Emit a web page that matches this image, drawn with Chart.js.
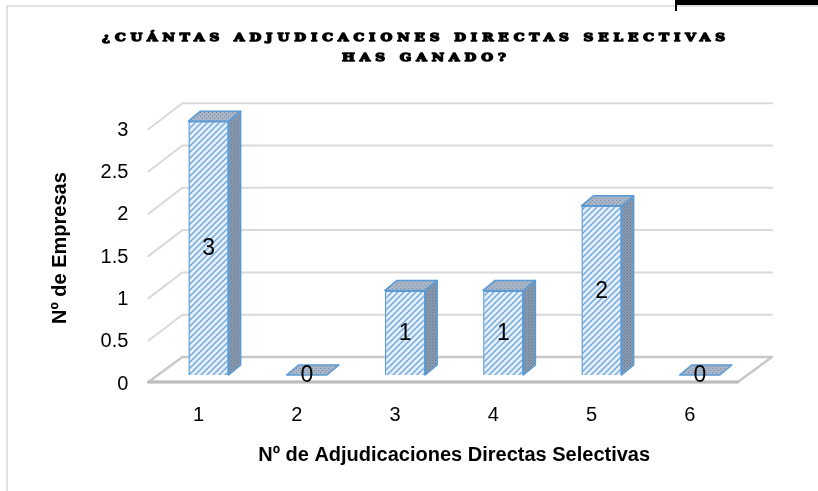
<!DOCTYPE html>
<html><head><meta charset="utf-8">
<script src="https://cdn.jsdelivr.net/npm/chart.js@4.4.1/dist/chart.umd.min.js"></script>
<style>html,body{margin:0;padding:0;background:#fff}#wrap{position:relative;width:818px;height:491px}</style>
</head><body><div id="wrap"><canvas id="c"></canvas></div>
<script>
const categories = ['1','2','3','4','5','6'];
const companies = [3, 0, 1, 1, 2, 0];
const yTicks = [0, 0.5, 1, 1.5, 2, 2.5, 3];
const titleLines = ['¿CUÁNTAS ADJUDICACIONES DIRECTAS SELECTIVAS', 'HAS GANADO?'];
const yTitle = 'Nº de Empresas';
const xTitle = 'Nº de Adjudicaciones Directas Selectivas';

const NARROW = "'Liberation Sans Narrow','Arial Narrow','Liberation Sans',Arial,sans-serif";

function makePattern(w, bg, fg, draw){
  const c = document.createElement('canvas'); c.width = w; c.height = w;
  const g = c.getContext('2d');
  g.fillStyle = bg; g.fillRect(0,0,w,w);
  g.strokeStyle = fg; g.fillStyle = fg;
  draw(g, w);
  return g.createPattern(c, 'repeat');
}
const frontPat = makePattern(6, '#e6f0fa', '#76a9dc', (g,w)=>{
  g.lineWidth = 1.5; g.beginPath();
  g.moveTo(-1, w+1); g.lineTo(w+1, -1);
  g.moveTo(-1, 1); g.lineTo(1, -1);
  g.moveTo(w-1, w+1); g.lineTo(w+1, w-1);
  g.stroke();
});
const sidePat = makePattern(3, '#8a9bb1', '#66788e', (g,w)=>{ g.fillRect(0,0,1,1); g.fillRect(1.5,1.5,1,1); });
const topPat = makePattern(4, '#a7b5c6', '#7d8fa6', (g,w)=>{ g.fillRect(0,0,1,1); g.fillRect(2,2,1,1); });

const FRONT_OFF = {dx:-11, dy:7};
const BACK_OFF = {dx:23, dy:-18};
const DEPTH = {dx:12, dy:-10};

const framePlugin = {
  id:'frame',
  beforeDraw(chart){
    const ctx = chart.ctx;
    ctx.save();
    ctx.fillStyle = '#fff'; ctx.fillRect(0,0,chart.width,chart.height);
    ctx.strokeStyle = '#d9d9d9'; ctx.lineWidth = 1.5;
    ctx.beginPath(); ctx.moveTo(7, chart.height+2); ctx.lineTo(7, 6); ctx.lineTo(chart.width+2, 6); ctx.stroke();
    ctx.fillStyle = '#000';
    ctx.fillRect(675, 0, 143, 5);
    ctx.fillRect(675, 0, 2, 11);
    // title (wide, heavy, letter-spaced)
    const SX = 1.18;
    ctx.font = 'bold 11.5px "DejaVu Serif"';
    ctx.textBaseline = 'alphabetic'; ctx.textAlign = 'left';
    ctx.letterSpacing = '0px';
    const w0 = ctx.measureText(titleLines[0]).width;
    const n0 = [...titleLines[0]].length;
    const sp = (623 / SX - w0) / (n0 - 1);
    const centers = [413.5, 424];
    const bases = [40.5, 60.5];
    ctx.lineWidth = 1.4; ctx.strokeStyle = '#000'; ctx.lineJoin = 'round';
    titleLines.forEach((t,i)=>{
      const n = [...t].length;
      ctx.letterSpacing = '0px';
      const w = (ctx.measureText(t).width + (n-1)*sp) * SX;
      ctx.save();
      ctx.translate(centers[i] - w/2, bases[i]);
      ctx.scale(SX, 1);
      ctx.letterSpacing = sp + 'px';
      ctx.fillText(t, 0, 0);
      ctx.strokeText(t, 0, 0);
      ctx.restore();
    });
    ctx.restore();
  }
};

const wallPlugin = {
  id:'wall',
  beforeDatasetsDraw(chart){
    const ctx = chart.ctx, ys = chart.scales.y, a = chart.chartArea;
    ctx.save();
    ctx.lineCap = 'round';
    yTicks.forEach(v=>{
      if (v === 0) return;
      const p = ys.getPixelForValue(v);
      ctx.strokeStyle = '#d9d9d9'; ctx.lineWidth = 2;
      ctx.beginPath();
      ctx.moveTo(a.left + FRONT_OFF.dx, p + FRONT_OFF.dy + 1);
      ctx.lineTo(a.left + BACK_OFF.dx, p + BACK_OFF.dy);
      ctx.lineTo(a.right + BACK_OFF.dx, p + BACK_OFF.dy);
      ctx.stroke();
    });
    const p0 = ys.getPixelForValue(0);
    ctx.strokeStyle = '#c8c8c8'; ctx.lineWidth = 2.5; ctx.lineJoin = 'round';
    ctx.beginPath();
    ctx.moveTo(a.left + BACK_OFF.dx, p0 + BACK_OFF.dy);
    ctx.lineTo(a.right + BACK_OFF.dx, p0 + BACK_OFF.dy);
    ctx.lineTo(a.right + FRONT_OFF.dx, p0 + FRONT_OFF.dy);
    ctx.lineTo(a.left + FRONT_OFF.dx, p0 + FRONT_OFF.dy);
    ctx.closePath();
    ctx.stroke();
    ctx.strokeStyle = '#bdbdbd'; ctx.lineWidth = 3;
    ctx.beginPath();
    ctx.moveTo(a.left + FRONT_OFF.dx, p0 + FRONT_OFF.dy);
    ctx.lineTo(a.right + FRONT_OFF.dx, p0 + FRONT_OFF.dy);
    ctx.stroke();
    ctx.restore();
  }
};

const barsPlugin = {
  id:'bars3d',
  afterDatasetsDraw(chart){
    const ctx = chart.ctx;
    const meta = chart.getDatasetMeta(0);
    ctx.save();
    ctx.strokeStyle = '#5b9bd5'; ctx.lineWidth = 1.5; ctx.lineJoin = 'round';
    meta.data.forEach((bar, i)=>{
      const {x, y, base, width} = bar.getProps(['x','y','base','width'], true);
      const l = x - width/2, r = x + width/2;
      if (base - y > 1) {
        ctx.fillStyle = sidePat;
        ctx.beginPath();
        ctx.moveTo(r, y); ctx.lineTo(r + DEPTH.dx, y + DEPTH.dy);
        ctx.lineTo(r + DEPTH.dx, base + DEPTH.dy); ctx.lineTo(r, base);
        ctx.closePath(); ctx.fill(); ctx.stroke();
      }
      ctx.fillStyle = topPat;
      ctx.beginPath();
      ctx.moveTo(l, y); ctx.lineTo(l + DEPTH.dx, y + DEPTH.dy);
      ctx.lineTo(r + DEPTH.dx, y + DEPTH.dy); ctx.lineTo(r, y);
      ctx.closePath(); ctx.fill(); ctx.stroke();
    });
    ctx.fillStyle = '#000';
    ctx.font = '23px ' + NARROW;
    ctx.textAlign = 'center'; ctx.textBaseline = 'middle';
    meta.data.forEach((bar, i)=>{
      const {x, y, base} = bar.getProps(['x','y','base'], true);
      ctx.fillText(String(companies[i]), x, (y + base)/2 + 1);
    });
    ctx.restore();
  }
};

new Chart(document.getElementById('c'), {
  type: 'bar',
  data: {
    labels: categories,
    datasets: [{
      data: companies,
      backgroundColor: frontPat,
      borderColor: '#5b9bd5',
      borderWidth: 1.5,
      categoryPercentage: 1,
      barPercentage: 0.41
    }]
  },
  options: {
    responsive: true,
    maintainAspectRatio: false,
    animation: false,
    devicePixelRatio: 1,
    layout: { padding: { left: 0, right: 69.1, top: 121.2, bottom: 0 } },
    plugins: { legend: { display: false }, title: { display: false }, tooltip: { enabled: false } },
    scales: {
      x: {
        grid: { display: false, drawTicks: false }, border: { display: false },
        ticks: { padding: 28, labelOffset: -10, color: '#000', font: { family: NARROW, size: 20 } },
        title: { display: true, text: xTitle, color: '#000', font: { family: NARROW, size: 20, weight: 'bold' }, padding: { top: 0, bottom: 24 } },
        afterFit: s => { s.height = 116; }
      },
      y: {
        min: 0, max: 3,
        afterBuildTicks: s => { s.ticks = yTicks.map(v => ({ value: v })); },
        grid: { display: false, drawTicks: false }, border: { display: false },
        ticks: { padding: 31, labelOffset: 9, color: '#000', font: { family: NARROW, size: 20 }, callback: v => String(v) },
        title: { display: true, text: yTitle, color: '#000', font: { family: NARROW, size: 20, weight: 'bold' }, padding: { top: 48, bottom: 0 } },
        afterFit: s => { s.width = 159.4; }
      }
    }
  },
  plugins: [framePlugin, wallPlugin, barsPlugin]
});
</script>
</body></html>
